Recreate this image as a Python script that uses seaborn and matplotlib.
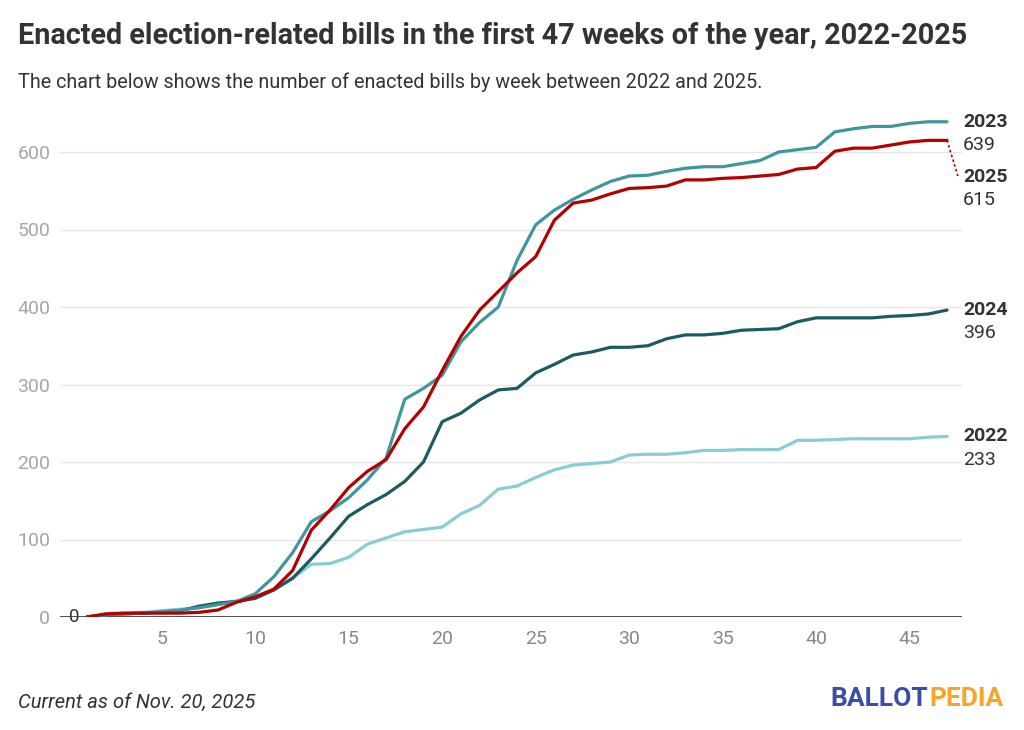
import numpy as np
import pandas as pd
import matplotlib
matplotlib.use('Agg')
import matplotlib.pyplot as plt
import seaborn as sns

# week numbers and cumulative enacted bills per year
weeks = list(range(1, 48))

bills_2022 = [0, 3, 5, 6, 8, 10, 12, 16, 21, 25, 35, 50, 68, 69, 77, 94, 102, 110, 113, 116,
              133, 144, 165, 169, 180, 190, 196, 198, 200, 209, 210, 210, 212, 215, 215, 216,
              216, 216, 228, 228, 229, 230, 230, 230, 230, 232, 233]
bills_2023 = [0, 3, 4, 5, 7, 9, 12, 16, 20, 30, 52, 83, 123, 137, 154, 177, 205, 281, 295, 312,
              355, 380, 400, 460, 506, 525, 539, 551, 562, 569, 570, 575, 579, 581, 581, 585,
              589, 600, 603, 606, 626, 630, 633, 633, 637, 639, 639]
bills_2024 = [0, 3, 4, 5, 6, 8, 14, 18, 20, 24, 35, 50, 75, 102, 130, 145, 158, 175, 200, 252,
              263, 280, 293, 295, 315, 326, 338, 342, 348, 348, 350, 359, 364, 364, 366, 370,
              371, 372, 381, 386, 386, 386, 386, 388, 389, 391, 396]
bills_2025 = [0, 4, 5, 5, 5, 5, 6, 9, 19, 26, 36, 60, 112, 138, 167, 188, 203, 243, 271, 318,
              362, 396, 420, 444, 465, 512, 534, 538, 546, 553, 554, 556, 564, 564, 566, 567,
              569, 571, 578, 580, 601, 605, 605, 609, 613, 615, 615]

years = ['2022', '2024', '2023', '2025']   # draw order, 2025 on top
series = {'2022': bills_2022, '2023': bills_2023, '2024': bills_2024, '2025': bills_2025}

y_ticks = [0, 100, 200, 300, 400, 500, 600]
x_ticks = [5, 10, 15, 20, 25, 30, 35, 40, 45]

colors = {'2022': '#88cdd6', '2023': '#3f969f', '2024': '#1b5b61', '2025': '#b30000'}

df = pd.concat([pd.DataFrame({'week': weeks, 'bills': series[y], 'year': y}) for y in years],
               ignore_index=True)

sns.set_style('white')
plt.rcParams['font.family'] = ['Roboto', 'DejaVu Sans']

fig = plt.figure(figsize=(10.24, 7.30), dpi=100)
ax = fig.add_axes([60 / 1024, (730 - 617) / 730, 902 / 1024, (617 - 113.25) / 730])

sns.lineplot(data=df, x='week', y='bills', hue='year', hue_order=years, palette=colors,
             linewidth=2.3, legend=False, ax=ax, zorder=3)

ax.set_xlim(-0.44, 47.8)
ax.set_ylim(0, 650)
ax.set_yticks(y_ticks)
ax.set_xticks(x_ticks)
ax.set_yticklabels([str(v) for v in y_ticks])
ax.set_xlabel('')
ax.set_ylabel('')
for s in ax.spines.values():
    s.set_visible(False)
ax.grid(axis='y', color='#e5e5e5', linewidth=1)
ax.grid(axis='x', visible=False)
ax.axhline(0, color='#333333', linewidth=1.2, zorder=2)
ax.tick_params(axis='y', length=0, pad=7, labelsize=14, labelcolor='#a6a6a6')
ax.tick_params(axis='x', length=0, pad=9, labelsize=14, labelcolor='#888888')

# the dark "0" sitting on the baseline
ax.text(0.30, 0, '0', ha='center', va='center', fontsize=13.5, color='#333333', zorder=4)

# end labels
label_pos = {'2023': 639, '2024': 396, '2022': 233, '2025': 568}
for y in years:
    last = series[y][-1]
    ax.annotate(y, xy=(47, label_pos[y]), xytext=(11.5, 0), textcoords='offset points',
                ha='left', va='center', fontsize=14, fontweight='bold', color='#333333',
                annotation_clip=False)
    ax.annotate(str(last), xy=(47, label_pos[y]), xytext=(11.5, -16.8), textcoords='offset points',
                ha='left', va='center', fontsize=14, color='#333333', annotation_clip=False)

# dotted leader from 2025 line end to its shifted label
ax.plot([47, 47.58], [bills_2025[-1], 569], linestyle=(0, (1.5, 1.5)), color=colors['2025'],
        linewidth=1.2, clip_on=False)

fig.text(18 / 1024, 1 - 36 / 730, 'Enacted election-related bills in the first 47 weeks of the year, 2022-2025',
         ha='left', va='center', fontsize=20.7, fontweight='bold', color='#333333')
fig.text(18 / 1024, 1 - 82 / 730, 'The chart below shows the number of enacted bills by week between 2022 and 2025.',
         ha='left', va='center', fontsize=14.2, color='#333333')
fig.text(18 / 1024, 1 - 702 / 730, 'Current as of Nov. 20, 2025', ha='left', va='center',
         fontsize=14.5, style='italic', color='#333333')

pedia = fig.text(1004 / 1024, 1 - 699 / 730, 'PEDIA', ha='right', va='center',
                 fontsize=19, fontweight='bold', color='#f4a52a')
ax.annotate('BALLOT', xy=(0, 0.5), xycoords=pedia, xytext=(-1, 0), textcoords='offset points',
            ha='right', va='center', fontsize=19, fontweight='bold', color='#3a4ea6',
            annotation_clip=False)

fig.savefig('out.png', dpi=100)
